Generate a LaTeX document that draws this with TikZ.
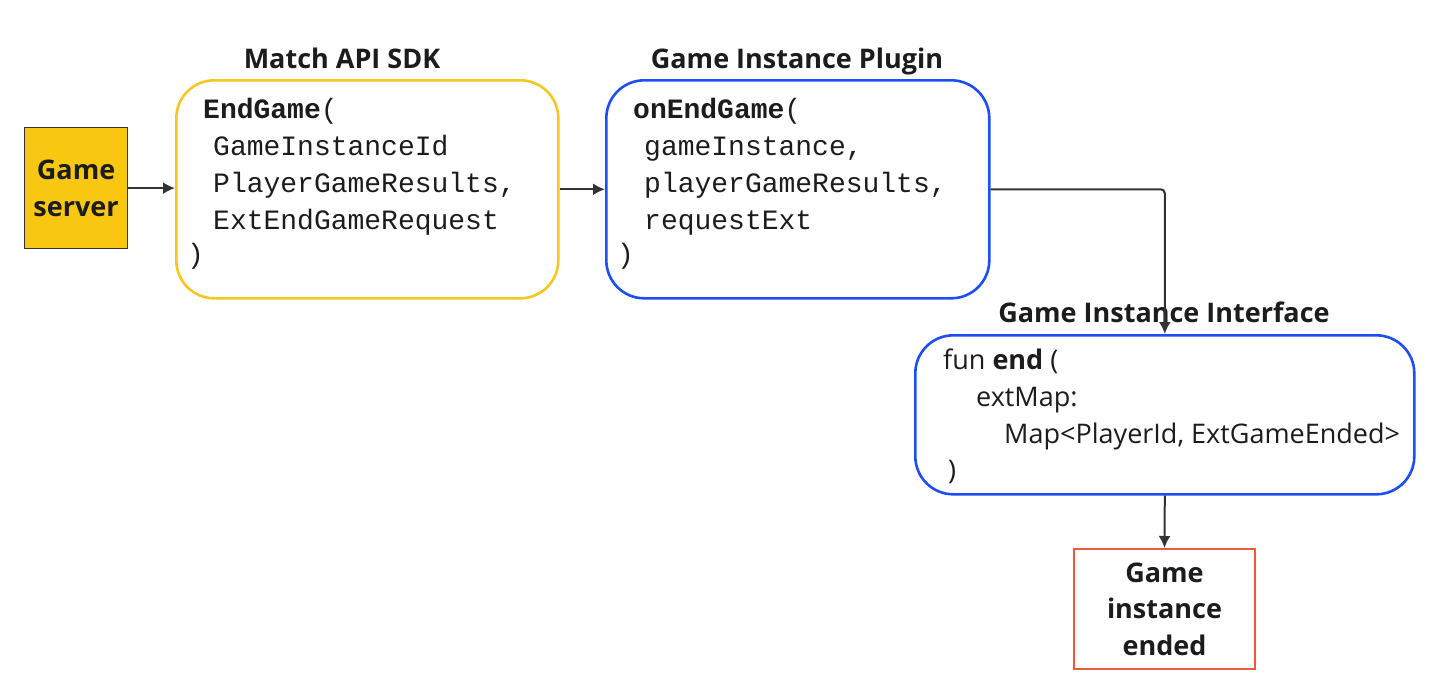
\documentclass[tikz,border=0pt]{standalone}
\usepackage{fontspec}
\setmainfont{Open Sans}
\newfontfamily\monof{Liberation Mono}
\usetikzlibrary{arrows.meta}
\definecolor{txt}{HTML}{1C1C1C}
\definecolor{gsfill}{HTML}{F8C711}
\definecolor{ybord}{HTML}{F6C621}
\definecolor{bbord}{HTML}{1F4DF5}
\definecolor{rbord}{HTML}{EE5A3A}
\definecolor{arrc}{HTML}{333333}
\begin{document}
\begin{tikzpicture}[x=1pt,y=-1pt,
  box/.style={draw, line width=2.6pt, rounded corners=38pt, anchor=north west, inner sep=0pt},
  ttl/.style={anchor=base, inner sep=0pt, text=txt, font=\fontsize{27}{30}\selectfont\bfseries},
  mono/.style={anchor=base west, inner sep=0pt, text=txt, font=\fontsize{28}{37}\selectfont\monof},
  sans/.style={anchor=base west, inner sep=0pt, text=txt, font=\fontsize{27}{37}\selectfont},
  arr/.style={draw=arrc, line width=2pt, -{Latex[length=12pt,width=12pt]}, rounded corners=4pt},
  plain/.style={align=center, text=txt, font=\fontsize{27}{36.5}\selectfont\bfseries, anchor=north west, inner sep=0pt}
]
\useasboundingbox (0,0) rectangle (1449,689);

% Game server
\node[plain, draw=arrc, fill=gsfill, line width=1.2pt, minimum width=103pt, minimum height=121pt] (gs) at (24,127) {Game\\server};

% Match API SDK box
\node[box, draw=ybord, minimum width=382pt, minimum height=218pt] (sdk) at (175,79) {};
\node[ttl] (sdkt) at (342,68) {Match API SDK};
\node[mono] (s1) at (203,118) {\textbf{EndGame}(};
\node[mono] (s2) at (213,155) {GameInstanceId};
\node[mono] (s3) at (213,192) {PlayerGameResults,};
\node[mono] (s4) at (213,229) {ExtEndGameRequest};
\node[mono] (s5) at (187,263) {)};

% Game Instance Plugin box
\node[box, draw=bbord, minimum width=383pt, minimum height=218pt] (plug) at (605,79) {};
\node[ttl] (plugt) at (797,68) {Game Instance Plugin};
\node[mono] (p1) at (633,118) {\textbf{onEndGame}(};
\node[mono] (p2) at (644,155) {gameInstance,};
\node[mono] (p3) at (644,192) {playerGameResults,};
\node[mono] (p4) at (644,229) {requestExt};
\node[mono] (p5) at (617,263) {)};

% Game Instance Interface box
\node[box, draw=bbord, minimum width=499pt, minimum height=159pt] (iface) at (914,334) {};
\node[ttl] (ifacet) at (1164,322) {Game Instance Interface};
\node[sans] (i1) at (943,369) {fun \textbf{end} (};
\node[sans] (i2) at (976,406) {extMap:};
\node[sans] (i3) at (1004,443) {Map<PlayerId, ExtGameEnded>};
\node[sans] (i4) at (948,479) {)};

% Game instance ended
\node[plain, draw=rbord, line width=2pt, minimum width=181pt, minimum height=120pt] (done) at (1073,548) {Game\\instance\\ended};

% connectors
\draw[arr] (gs.east) -- (gs.east -| sdk.west);
\draw[arr] (sdk.east) -- (plug.west);
\draw[arr] (plug.east) -| (iface.north);
\draw[arr] (iface.south) -- (done.north);
\end{tikzpicture}
\end{document}
